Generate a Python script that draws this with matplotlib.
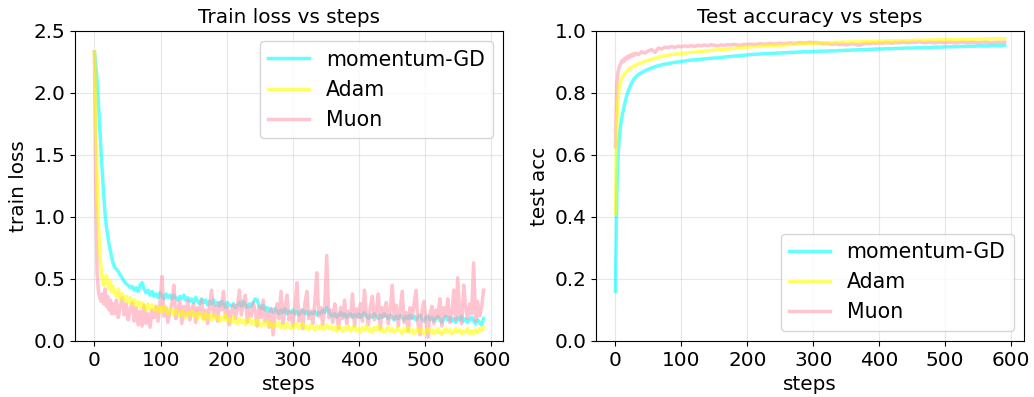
import matplotlib
matplotlib.use("Agg")
import matplotlib.pyplot as plt

plt.rcParams['font.family'] = ['DejaVu Sans']
plt.rcParams['font.size'] = 14.4

steps_train = list(range(0, 30, 2)) + list(range(30, 591, 3))
steps_acc = list(range(0, 30, 2)) + list(range(30, 595, 5))

labels = ["momentum-GD", "Adam", "Muon"]
colors = ["#00FFFF", "#FFFF00", "#FF9EB0"]

train_gd = [
    2.33, 2.22, 2.10, 1.92, 1.72, 1.52, 1.35, 1.18, 1.03, 0.92, 0.85, 0.78, 0.73, 0.68, 0.63,
    0.60, 0.58, 0.56, 0.53, 0.51, 0.48, 0.46, 0.45, 0.43, 0.44,
    0.41, 0.43, 0.40, 0.45, 0.47, 0.42, 0.39, 0.41, 0.37, 0.40,
    0.36, 0.38, 0.35, 0.39, 0.36, 0.34, 0.38, 0.35, 0.37, 0.34,
    0.37, 0.35, 0.33, 0.36, 0.34, 0.37, 0.33, 0.35, 0.32, 0.34,
    0.31, 0.35, 0.32, 0.30, 0.34, 0.31, 0.33, 0.29, 0.32, 0.30,
    0.33, 0.29, 0.31, 0.28, 0.32, 0.30, 0.27, 0.31, 0.29, 0.28,
    0.30, 0.27, 0.29, 0.31, 0.28, 0.32, 0.29, 0.27, 0.30, 0.28,
    0.31, 0.34, 0.33, 0.28, 0.26, 0.29, 0.25, 0.27, 0.24, 0.26,
    0.23, 0.26, 0.24, 0.22, 0.25, 0.23, 0.26, 0.22, 0.24, 0.23,
    0.25, 0.22, 0.24, 0.21, 0.23, 0.25, 0.22, 0.24, 0.21, 0.23,
    0.22, 0.24, 0.21, 0.23, 0.22, 0.25, 0.23, 0.27, 0.24, 0.21,
    0.20, 0.22, 0.19, 0.21, 0.23, 0.20, 0.22, 0.19, 0.21, 0.22,
    0.19, 0.21, 0.20, 0.22, 0.19, 0.21, 0.23, 0.20, 0.18, 0.21,
    0.19, 0.22, 0.20, 0.18, 0.21, 0.19, 0.22, 0.20, 0.18, 0.21,
    0.19, 0.17, 0.20, 0.18, 0.21, 0.19, 0.17, 0.20, 0.18, 0.21,
    0.18, 0.20, 0.17, 0.19, 0.21, 0.18, 0.16, 0.19, 0.20, 0.17,
    0.19, 0.16, 0.18, 0.20, 0.17, 0.15, 0.18, 0.20, 0.17, 0.19,
    0.16, 0.18, 0.15, 0.19, 0.17, 0.20, 0.16, 0.18, 0.15, 0.17,
    0.19, 0.16, 0.14, 0.17, 0.15, 0.13, 0.18,
]
train_adam = [
    2.33, 1.80, 1.30, 0.95, 0.72, 0.58, 0.50, 0.45, 0.50, 0.53, 0.47, 0.42, 0.48, 0.40, 0.44,
    0.40, 0.36, 0.42, 0.34, 0.38, 0.33, 0.36, 0.31, 0.35, 0.30,
    0.33, 0.29, 0.32, 0.27, 0.31, 0.28, 0.25, 0.30, 0.26, 0.29,
    0.25, 0.28, 0.24, 0.27, 0.23, 0.28, 0.25, 0.22, 0.26, 0.24,
    0.21, 0.25, 0.23, 0.20, 0.24, 0.22, 0.19, 0.23, 0.21, 0.24,
    0.20, 0.22, 0.18, 0.23, 0.20, 0.17, 0.22, 0.19, 0.21, 0.17,
    0.21, 0.18, 0.20, 0.16, 0.19, 0.17, 0.21, 0.16, 0.18, 0.15,
    0.19, 0.16, 0.14, 0.18, 0.15, 0.17, 0.13, 0.16, 0.18, 0.14,
    0.16, 0.13, 0.17, 0.14, 0.12, 0.15, 0.13, 0.16, 0.12, 0.14,
    0.11, 0.14, 0.12, 0.15, 0.11, 0.13, 0.10, 0.14, 0.12, 0.10,
    0.13, 0.11, 0.14, 0.10, 0.12, 0.14, 0.10, 0.12, 0.09, 0.13,
    0.11, 0.09, 0.12, 0.10, 0.13, 0.09, 0.11, 0.13, 0.10, 0.12,
    0.09, 0.11, 0.08, 0.12, 0.10, 0.08, 0.11, 0.09, 0.12, 0.08,
    0.10, 0.12, 0.08, 0.10, 0.07, 0.11, 0.09, 0.12, 0.08, 0.10,
    0.07, 0.11, 0.09, 0.12, 0.08, 0.10, 0.07, 0.09, 0.11, 0.08,
    0.10, 0.07, 0.09, 0.11, 0.08, 0.06, 0.10, 0.08, 0.11, 0.07,
    0.09, 0.06, 0.08, 0.10, 0.07, 0.09, 0.06, 0.08, 0.10, 0.07,
    0.09, 0.06, 0.08, 0.10, 0.07, 0.05, 0.08, 0.10, 0.07, 0.09,
    0.06, 0.08, 0.10, 0.07, 0.09, 0.06, 0.08, 0.07, 0.10, 0.06,
    0.08, 0.06, 0.09, 0.07, 0.10, 0.08, 0.11,
]
train_muon = [
    2.33, 1.20, 0.55, 0.40, 0.35, 0.32, 0.38, 0.30, 0.42, 0.28, 0.36, 0.25, 0.33, 0.22, 0.30,
    0.22, 0.33, 0.19, 0.28, 0.35, 0.21, 0.30, 0.17, 0.26, 0.31,
    0.16, 0.27, 0.13, 0.24, 0.12, 0.29, 0.14, 0.22, 0.11, 0.25,
    0.19, 0.28, 0.16, 0.30, 0.52, 0.20, 0.27, 0.15, 0.24, 0.30,
    0.45, 0.18, 0.26, 0.32, 0.14, 0.28, 0.21, 0.33, 0.17, 0.26,
    0.30, 0.15, 0.27, 0.22, 0.33, 0.18, 0.25, 0.14, 0.29, 0.41,
    0.20, 0.28, 0.16, 0.31, 0.25, 0.40, 0.19, 0.27, 0.13, 0.24,
    0.29, 0.18, 0.26, 0.41, 0.21, 0.30, 0.37, 0.15, 0.27, 0.20,
    0.31, 0.24, 0.12, 0.28, 0.19, 0.33, 0.16, 0.23, 0.11, 0.26,
    0.05, 0.21, 0.30, 0.18, 0.40, 0.14, 0.26, 0.37, 0.17, 0.23,
    0.12, 0.29, 0.47, 0.16, 0.25, 0.10, 0.30, 0.40, 0.18, 0.24,
    0.14, 0.31, 0.55, 0.20, 0.27, 0.13, 0.28, 0.69, 0.19, 0.25,
    0.15, 0.30, 0.21, 0.10, 0.27, 0.18, 0.33, 0.14, 0.24, 0.20,
    0.38, 0.12, 0.26, 0.19, 0.30, 0.16, 0.41, 0.22, 0.13, 0.28,
    0.36, 0.17, 0.24, 0.38, 0.10, 0.27, 0.20, 0.31, 0.14, 0.25,
    0.45, 0.18, 0.29, 0.12, 0.26, 0.40, 0.15, 0.23, 0.08, 0.27,
    0.19, 0.30, 0.41, 0.13, 0.05, 0.24, 0.32, 0.16, 0.03, 0.22,
    0.28, 0.14, 0.25, 0.19, 0.34, 0.12, 0.27, 0.20, 0.34, 0.15,
    0.23, 0.41, 0.17, 0.51, 0.21, 0.14, 0.45, 0.26, 0.18, 0.30,
    0.22, 0.63, 0.16, 0.32, 0.20, 0.27, 0.41,
]

acc_gd = [
    0.16, 0.47, 0.60, 0.665, 0.70, 0.725, 0.745, 0.765, 0.782, 0.797, 0.81, 0.82, 0.83, 0.838, 0.845,
    0.85, 0.86, 0.866, 0.872, 0.877, 0.881, 0.885, 0.888, 0.891, 0.893,
    0.895, 0.897, 0.899, 0.900, 0.902, 0.903, 0.905, 0.906, 0.907, 0.908,
    0.909, 0.910, 0.911, 0.912, 0.913, 0.913, 0.915, 0.916, 0.917, 0.918,
    0.919, 0.920, 0.921, 0.922, 0.923, 0.924, 0.925, 0.925, 0.926, 0.927,
    0.927, 0.928, 0.928, 0.929, 0.929, 0.930, 0.930, 0.931, 0.931, 0.932,
    0.932, 0.933, 0.933, 0.933, 0.934, 0.934, 0.935, 0.935, 0.935, 0.936,
    0.936, 0.936, 0.937, 0.937, 0.938, 0.938, 0.939, 0.939, 0.940, 0.940,
    0.940, 0.941, 0.941, 0.942, 0.942, 0.942, 0.943, 0.943, 0.943, 0.944,
    0.944, 0.944, 0.945, 0.945, 0.945, 0.946, 0.946, 0.946, 0.947, 0.947,
    0.947, 0.948, 0.948, 0.948, 0.949, 0.949, 0.949, 0.950, 0.950, 0.950,
    0.950, 0.951, 0.951, 0.951, 0.952, 0.952, 0.952, 0.952, 0.953, 0.953,
    0.953, 0.953, 0.954,
]
acc_adam = [
    0.41, 0.70, 0.78, 0.825, 0.838, 0.848, 0.856, 0.862, 0.867, 0.872, 0.876, 0.879, 0.882, 0.885, 0.887,
    0.889, 0.894, 0.898, 0.902, 0.906, 0.909, 0.912, 0.915, 0.918, 0.920,
    0.922, 0.924, 0.925, 0.927, 0.928, 0.929, 0.930, 0.931, 0.932, 0.933,
    0.934, 0.935, 0.936, 0.937, 0.938, 0.939, 0.940, 0.941, 0.942, 0.943,
    0.944, 0.945, 0.946, 0.947, 0.948, 0.949, 0.950, 0.950, 0.951, 0.952,
    0.952, 0.953, 0.954, 0.954, 0.955, 0.955, 0.956, 0.957, 0.957, 0.958,
    0.958, 0.959, 0.959, 0.960, 0.960, 0.961, 0.961, 0.962, 0.962, 0.962,
    0.963, 0.963, 0.963, 0.964, 0.964, 0.964, 0.965, 0.965, 0.965, 0.966,
    0.966, 0.966, 0.967, 0.967, 0.967, 0.967, 0.968, 0.968, 0.968, 0.968,
    0.969, 0.969, 0.969, 0.969, 0.970, 0.970, 0.970, 0.970, 0.971, 0.971,
    0.971, 0.971, 0.971, 0.972, 0.972, 0.972, 0.972, 0.972, 0.973, 0.973,
    0.973, 0.973, 0.973, 0.974, 0.974, 0.974, 0.974, 0.974, 0.975, 0.975,
    0.975, 0.975, 0.975,
]
acc_muon = [
    0.627, 0.83, 0.87, 0.885, 0.895, 0.905, 0.900, 0.912, 0.908, 0.918, 0.913, 0.922, 0.917, 0.926, 0.921,
    0.928, 0.924, 0.933, 0.929, 0.936, 0.940, 0.931, 0.945, 0.942, 0.948,
    0.946, 0.950, 0.947, 0.951, 0.949, 0.952, 0.950, 0.953, 0.950, 0.954,
    0.952, 0.955, 0.953, 0.956, 0.954, 0.952, 0.955, 0.954, 0.956, 0.955,
    0.957, 0.955, 0.954, 0.957, 0.956, 0.958, 0.956, 0.957, 0.959, 0.957,
    0.958, 0.960, 0.958, 0.959, 0.961, 0.959, 0.960, 0.962, 0.960, 0.961,
    0.963, 0.961, 0.962, 0.964, 0.962, 0.963, 0.961, 0.959, 0.960, 0.958,
    0.957, 0.959, 0.956, 0.958, 0.955, 0.957, 0.959, 0.956, 0.954, 0.958,
    0.960, 0.959, 0.961, 0.960, 0.962, 0.961, 0.963, 0.962, 0.961, 0.963,
    0.962, 0.964, 0.963, 0.962, 0.964, 0.963, 0.965, 0.963, 0.962, 0.964,
    0.963, 0.962, 0.964, 0.963, 0.962, 0.964, 0.963, 0.962, 0.963, 0.964,
    0.963, 0.962, 0.964, 0.963, 0.962, 0.963, 0.964, 0.963, 0.962, 0.963,
    0.964, 0.963, 0.964,
]

train_series = [train_gd, train_adam, train_muon]
acc_series = [acc_gd, acc_adam, acc_muon]
zorders = [2, 4, 3]

fig = plt.figure(figsize=(10.34, 3.97), dpi=100)
ax1 = fig.add_axes([75/1034, 56/397, 428/1034, 310/397])
ax2 = fig.add_axes([596/1034, 56/397, 428/1034, 310/397])

for ys, lab, c, z in zip(train_series, labels, colors, zorders):
    ax1.plot(steps_train, ys, color=c, alpha=0.6, lw=2.5, label=lab, zorder=z)
ax1.set_ylim(0, 2.5)
ax1.set_title("Train loss vs steps", fontsize=14.4)
ax1.set_xlabel("steps")
ax1.set_ylabel("train loss")
ax1.grid(True, alpha=0.3)
ax1.legend(loc="upper right", fontsize=14.8)

for ys, lab, c, z in zip(acc_series, labels, colors, zorders):
    ax2.plot(steps_acc, ys, color=c, alpha=0.6, lw=2.5, label=lab, zorder=z)
ax2.set_ylim(0, 1.0)
ax2.set_title("Test accuracy vs steps", fontsize=14.4)
ax2.set_xlabel("steps")
ax2.set_ylabel("test acc")
ax2.grid(True, alpha=0.3)
ax2.legend(loc="lower right", fontsize=14.8)

fig.savefig("out.png", dpi=100)
